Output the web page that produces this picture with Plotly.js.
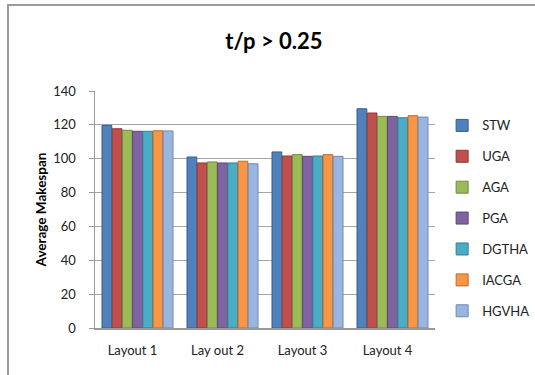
<!DOCTYPE html>
<html>
<head>
<meta charset="utf-8">
<script src="https://cdn.plot.ly/plotly-3.0.1.min.js"></script>
<style>
  html, body { margin: 0; padding: 0; background: #ffffff; }
  #wrap { position: relative; width: 535px; height: 375px; overflow: hidden; }
  #chart { position: absolute; left: 0; top: 0; width: 535px; height: 375px; }
  #frame { position: absolute; left: 7px; top: 4px; width: 600px; height: 400px;
           border-top: 2px solid #9a9a9a; border-left: 2px solid #9a9a9a;
           pointer-events: none; }
</style>
</head>
<body>
<div id="wrap">
  <div id="chart"></div>
  <div id="frame"></div>
</div>
<script>
const categories = ["Layout 1", "Lay out 2", "Layout 3", "Layout 4"];
const seriesNames = ["STW", "UGA", "AGA", "PGA", "DGTHA", "IACGA", "HGVHA"];
const STW   = [119.7, 101.0, 104.0, 129.5];
const UGA   = [117.7,  97.5, 101.6, 127.0];
const AGA   = [116.8,  98.1, 102.4, 125.0];
const PGA   = [116.2,  97.5, 101.4, 125.0];
const DGTHA = [116.2,  97.5, 101.6, 124.2];
const IACGA = [116.5,  98.5, 102.4, 125.4];
const HGVHA = [116.4,  97.0, 101.4, 124.6];
const seriesValues = [STW, UGA, AGA, PGA, DGTHA, IACGA, HGVHA];
const colors = ["#4F81BD", "#C0504D", "#9BBB59", "#8064A2", "#4BACC6", "#F79646", "#9AB5DF"];
const lineColors = ["#385D8A", "#8C3836", "#71893F", "#5C4776", "#357D91", "#B66D31", "#7089B0"];
const yTicks = [0, 20, 40, 60, 80, 100, 120, 140];

const traces = seriesNames.map((name, i) => ({
  type: "bar",
  name: name,
  x: categories,
  y: seriesValues[i],
  legendgroup: name,
  marker: { color: colors[i], line: { color: lineColors[i], width: 1 } },
  hoverinfo: "x+y+name"
}));

const font = "Lato, 'Open Sans', sans-serif";

const layout = {
  width: 535,
  height: 375,
  margin: { l: 95, r: 100, t: 91, b: 47, pad: 0, autoexpand: false },
  paper_bgcolor: "rgba(0,0,0,0)",
  plot_bgcolor: "rgba(0,0,0,0)",
  font: { family: font, size: 13, color: "#222222" },
  title: {
    text: "<b>t/p > 0.25</b>",
    font: { family: font, size: 22, color: "#000000" },
    x: 0.512, xref: "container", xanchor: "center",
    y: 0.889, yref: "container", yanchor: "middle"
  },
  barmode: "group",
  bargap: 0.16,
  bargroupgap: 0.04,
  showlegend: true,
  legend: {
    x: 1.021, xanchor: "left",
    y: 0.918, yanchor: "top",
    yref: "paper",
    tracegroupgap: 11,
    font: { family: font, size: 13, color: "#222222" },
    bgcolor: "rgba(0,0,0,0)"
  },
  xaxis: {
    type: "category",
    showgrid: false,
    showline: true,
    linecolor: "#9a9a9a",
    linewidth: 1.5,
    ticks: "",
    ticklabelstandoff: 10,
    ticklabelshift: -5,
    tickfont: { family: font, size: 13, color: "#222222" }
  },
  yaxis: {
    range: [0, 140],
    tickvals: yTicks,
    ticktext: yTicks.map(String),
    showgrid: true,
    gridcolor: "#a6a6a6",
    gridwidth: 1,
    zeroline: false,
    showline: true,
    linecolor: "#9a9a9a",
    linewidth: 1.5,
    ticks: "outside",
    ticklen: 5,
    tickcolor: "#9a9a9a",
    ticklabelstandoff: 10,
    tickfont: { family: font, size: 13, color: "#222222" },
    title: {
      text: "<b>Average Makespan</b>",
      font: { family: font, size: 13.5, color: "#000000" },
      standoff: 3
    }
  }
};

Plotly.newPlot("chart", traces, layout, { displayModeBar: false, staticPlot: true });
</script>
</body>
</html>
